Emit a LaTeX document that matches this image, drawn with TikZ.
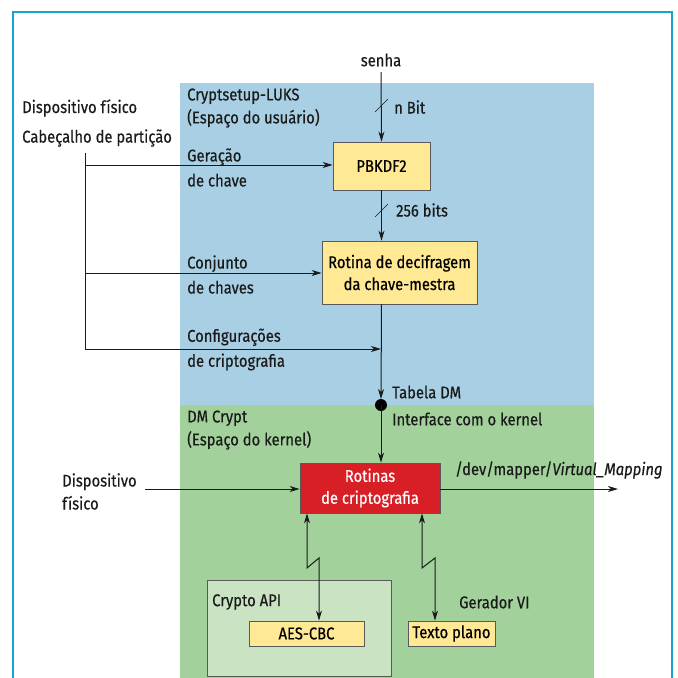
\documentclass[tikz,border=0pt]{standalone}
\usepackage{fontspec}
\setmainfont{Fira Sans}[FakeStretch=0.87, FakeBold=0.5]
\usetikzlibrary{arrows.meta}
\definecolor{userblue}{HTML}{A8CFE4}
\definecolor{kerngreen}{HTML}{A2D19B}
\definecolor{apigreen}{HTML}{C9E3C3}
\definecolor{boxyellow}{HTML}{FFE994}
\definecolor{boxred}{HTML}{D91F26}
\definecolor{framecyan}{HTML}{1AA3C8}
\definecolor{linegray}{HTML}{1A1A1A}
\begin{document}
\begin{tikzpicture}[x=1pt,y=-1pt,
  font=\fontsize{17}{18}\selectfont,
  box/.style={draw=black!65, line width=0.8pt, fill=boxyellow, inner sep=0pt, align=center, font=\fontsize{17}{22}\selectfont},
  lbl/.style={anchor=west, inner sep=0pt, align=left, text=linegray},
  lblA/.style={lbl, font=\fontsize{17}{23}\selectfont},
  lblB/.style={lbl, font=\fontsize{17}{25}\selectfont},
  tip/.style={-{Stealth[length=10pt,width=6pt,inset=3pt]}},
  conn/.style={draw=linegray, line width=1pt, tip},
  plain/.style={draw=linegray, line width=1pt},
  both/.style={draw=linegray, line width=1pt, {Stealth[length=10pt,width=6pt,inset=3pt]}-{Stealth[length=10pt,width=6pt,inset=3pt]}},
  slash/.style={draw=linegray, line width=0.6pt}]
\useasboundingbox (0,0) rectangle (678,678);
\fill[white] (0,0) rectangle (678,678);
% regions
\fill[userblue] (180,83) rectangle (594,405);
\fill[kerngreen] (180,405) rectangle (594,678);
% frame
\draw[framecyan, line width=1.6pt] (13,680) -- (13,12) -- (672,12) -- (672,680);
% region labels
\node[lblA] (luks) at (187,108) {Cryptsetup-LUKS\\(Espaço do usuário)};
\node[lblA] (dmc) at (187,430) {DM Crypt\\(Espaço do kernel)};
% boxes
\node[box, minimum width=97pt, minimum height=48pt] (pb) at (381.5,166) {PBKDF2};
\node[box, minimum width=155pt, minimum height=63pt] (rot) at (399.5,272.5) {Rotina de decifragem\\da chave-mestra};
\node[box, fill=boxred, text=white, minimum width=140pt, minimum height=50pt] (cr) at (370,488) {Rotinas\\de criptografia};
\node[draw=black!65, line width=0.8pt, fill=apigreen, minimum width=184pt, minimum height=96pt, inner sep=0pt] (api) at (299,628) {};
\node[lbl] (apil) at (212,602) {Crypto API};
\node[box, minimum width=115pt, minimum height=25pt] (aes) at (306.5,633.5) {AES-CBC};
\node[box, minimum width=87pt, minimum height=25pt] (txt) at (451.5,633.5) {Texto plano};
\node[lbl] (gvi) at (459,602) {Gerador VI};
% top input
\node[lbl, anchor=center] (senha) at (381,60) {senha};
\coordinate (sT) at (381,72);
\draw[conn] (sT) -- (pb.north);
\draw[slash] (375,112) -- (388,99);
\node[lbl] (nbit) at (394,107) {n Bit};
\draw[conn] (pb.south) -- (pb.south |- rot.north);
\draw[slash] (375,217) -- (388,204);
\node[lbl] (b256) at (396,210) {256 bits};
% left inputs
\node[lbl] (dfis) at (22,108) {Dispositivo físico};
\node[lbl] (cab) at (22,138) {Cabeçalho de partição};
\coordinate (vT) at (85,153);
\coordinate (vB) at (85,349);
\draw[plain] (vT) -- (vB);
\coordinate (gA) at (85,165);
\draw[conn] (gA) -- (pb.west |- gA);
\node[lblB] (ger) at (187,167.5) {Geração\\de chave};
\coordinate (cA) at (85,273);
\draw[conn] (cA) -- (rot.west |- cA);
\node[lblB] (conj) at (187,274.5) {Conjunto\\de chaves};
\coordinate (mid) at (381,349);
\draw[conn] (vB) -- (mid);
\node[lblB] (conf) at (187,349.5) {Configurações\\de criptografia};
% DM table
\coordinate (dot) at (381,405);
\draw[conn] (rot.south -| pb) -- (381,399);
\fill[black] (dot) circle (6);
\node[lbl] (tdm) at (392,392) {Tabela DM};
\node[lbl] (ifk) at (392,419) {Interface com o kernel};
\draw[conn] (dot) -- (cr.north -| dot);
% kernel side
\node[lblA] (dfis2) at (62,491.5) {Dispositivo\\físico};
\coordinate (dIn) at (145,489);
\draw[conn] (dIn) -- (cr.west |- dIn);
\coordinate (dOut) at (618,489);
\draw[conn] (cr.east |- dOut) -- (dOut);
\node[lbl] (map) at (455,470) {/dev/mapper/\textit{Virtual\_Mapping}};
% zigzag links
\draw[both] (cr.south -| 307,0) -- (307,568) -- (319,558) -- (aes.north -| 319,0);
\draw[both] (cr.south -| 422,0) -- (422,568) -- (435,558) -- (txt.north -| 435,0);
\end{tikzpicture}
\end{document}
